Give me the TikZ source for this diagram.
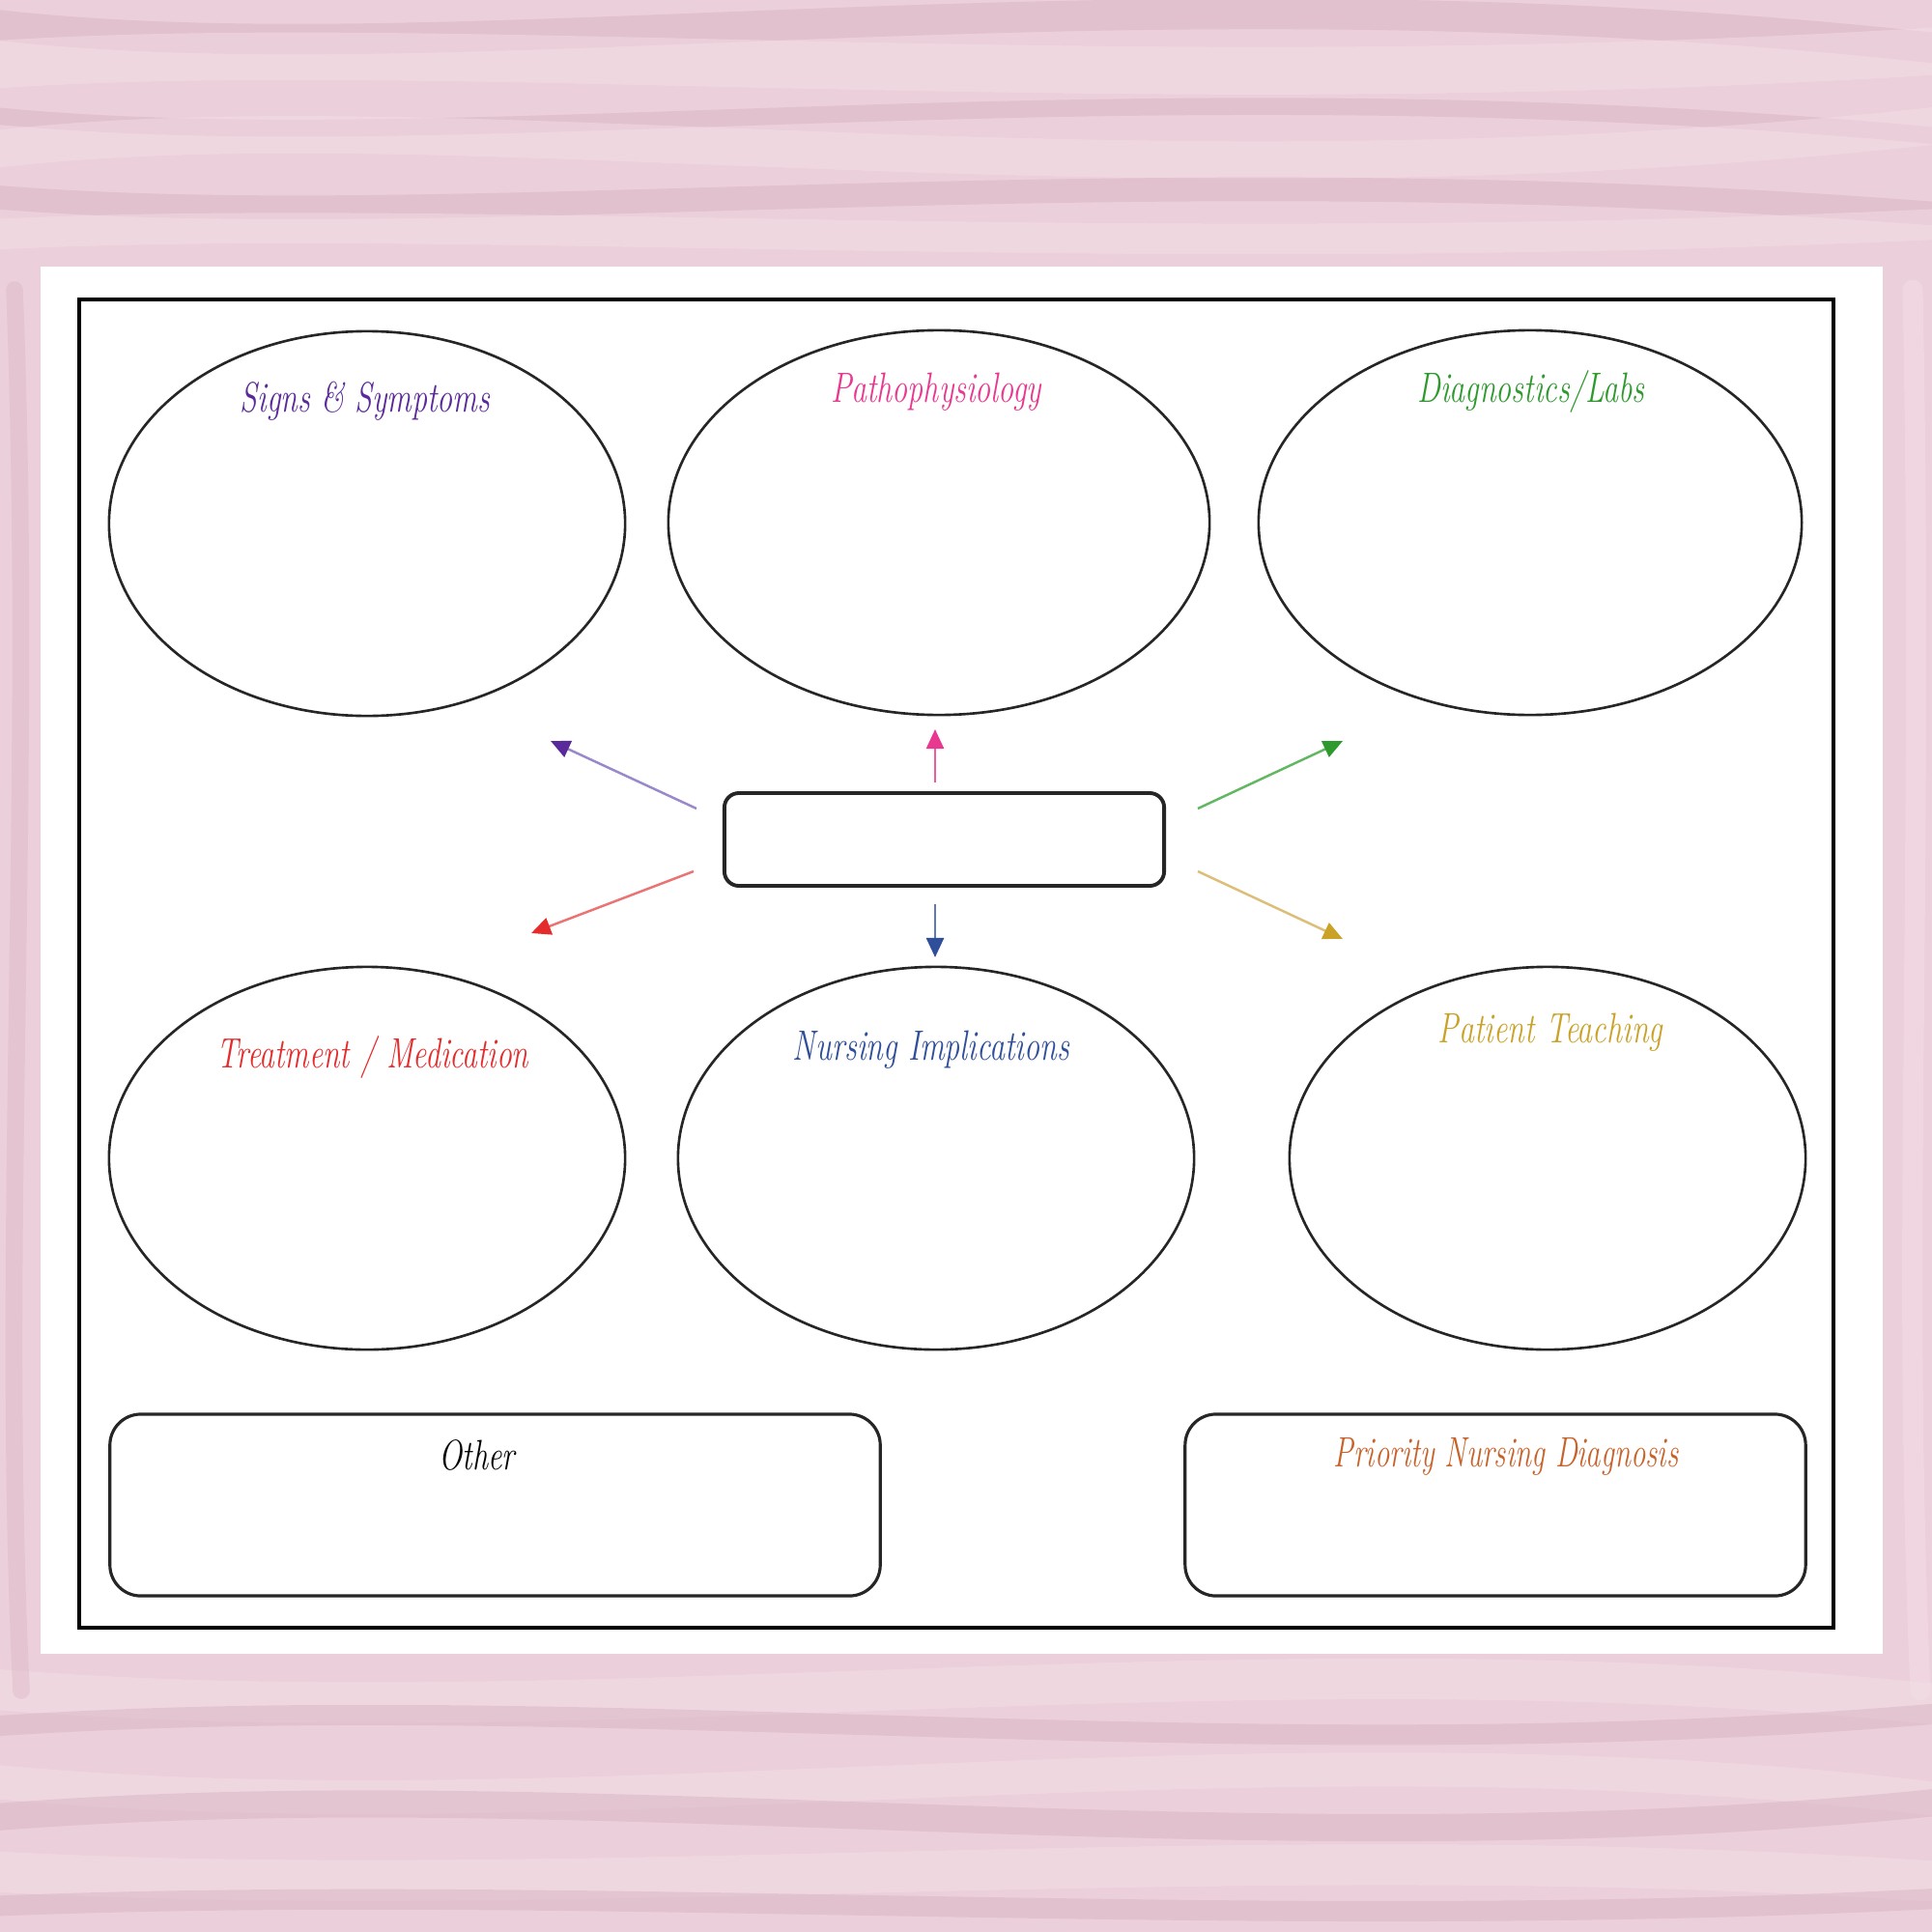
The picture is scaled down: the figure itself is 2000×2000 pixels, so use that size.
\documentclass[tikz,border=0pt]{standalone}
\usetikzlibrary{shapes.geometric,arrows.meta}
\definecolor{bgpink}{HTML}{EBCFDA}
\definecolor{veindark}{HTML}{D6B0C0}
\definecolor{veinlight}{HTML}{F5E1E9}
\definecolor{cpurple}{HTML}{5A2A9A}
\definecolor{lpurple}{HTML}{9A88CC}
\definecolor{cpink}{HTML}{E8388F}
\definecolor{lpink}{HTML}{EC5C9F}
\definecolor{cgreen}{HTML}{2E9A2E}
\definecolor{lgreen}{HTML}{62B862}
\definecolor{cred}{HTML}{E52B2B}
\definecolor{lred}{HTML}{EA7474}
\definecolor{cblue}{HTML}{2F4F9A}
\definecolor{lblue}{HTML}{5F7AB8}
\definecolor{cgold}{HTML}{C9A227}
\definecolor{lgold}{HTML}{DCBE78}
\definecolor{corange}{HTML}{C8622A}
\begin{document}
\begin{tikzpicture}[x=0.01cm,y=-0.01cm,
  bubble/.style={ellipse,draw=black!85,line width=0.75pt,inner sep=0pt},
  title/.style={font=\fontsize{12.5}{14}\selectfont\itshape},
  panel/.style={draw=black!85,line width=0.9pt,rounded corners=0.32cm},
  spoke/.style={line width=0.7pt},
]
\useasboundingbox (0,0) rectangle (2000,2000);
% marble background
\fill[bgpink] (0,0) rectangle (2000,2000);
\begin{scope}[line cap=round]
\foreach \yy/\c/\w/\a in {20/veindark/9/70,70/veinlight/14/-40,115/veindark/5/60,160/veinlight/11/-70,200/veindark/7/50,245/veinlight/9/-30}{
  \draw[\c,line width=\w pt,opacity=0.45] (-50,\yy) .. controls (450,\yy+\a) and (1150,\yy-\a) .. (2050,\yy+0.5*\a);
}
\foreach \yy/\c/\w/\a in {1745/veinlight/12/60,1790/veindark/6/-50,1840/veinlight/10/70,1885/veindark/8/-60,1935/veinlight/12/40,1975/veindark/6/-30}{
  \draw[\c,line width=\w pt,opacity=0.45] (-50,\yy) .. controls (600,\yy+\a) and (1300,\yy-\a) .. (2050,\yy+0.4*\a);
}
\draw[veindark,line width=5pt,opacity=0.35] (15,300) .. controls (35,800) and (0,1300) .. (22,1750);
\draw[veinlight,line width=6pt,opacity=0.4] (1980,300) .. controls (1992,900) and (1968,1300) .. (1988,1750);
\end{scope}
% paper
\fill[white] (42,276) rectangle (1949,1712);
\draw[black,line width=1.2pt] (82,310) rectangle (1898,1685);
% bubbles
\node[bubble,minimum width=5.34cm,minimum height=3.98cm] (signs) at (380,542) {};
\node[bubble,minimum width=5.60cm,minimum height=3.98cm] (patho) at (972,541) {};
\node[bubble,minimum width=5.62cm,minimum height=3.98cm] (diag) at (1584,541) {};
\node[bubble,minimum width=5.34cm,minimum height=3.96cm] (treat) at (380,1199) {};
\node[bubble,minimum width=5.34cm,minimum height=3.96cm] (nurs) at (969,1199) {};
\node[bubble,minimum width=5.34cm,minimum height=3.96cm] (teach) at (1602,1199) {};
% titles
\node[title,text=cpurple] (tsigns) at (378,415) {\scalebox{0.73}[1]{Signs \& Symptoms}};
\node[title,text=cpink] (tpatho) at (969,406) {\scalebox{0.73}[1]{Pathophysiology}};
\node[title,text=cgreen] (tdiag) at (1585,406) {\scalebox{0.73}[1]{Diagnostics/Labs}};
\node[title,text=cred] (ttreat) at (386,1094) {\scalebox{0.72}[1]{Treatment / Medication}};
\node[title,text=cblue] (tnurs) at (964,1087) {\scalebox{0.73}[1]{Nursing Implications}};
\node[title,text=cgold] (tteach) at (1605,1069) {\scalebox{0.73}[1]{Patient Teaching}};
% center box
\node[draw=black!85,line width=1.1pt,rounded corners=0.15cm,minimum width=4.55cm,minimum height=0.96cm,inner sep=0pt] (center) at (977.5,869) {};
% bottom panels
\node[panel,minimum width=7.97cm,minimum height=1.88cm,inner sep=0pt] (other) at (512.5,1558) {};
\node[panel,minimum width=6.42cm,minimum height=1.88cm,inner sep=0pt] (prio) at (1548,1558) {};
\node[title,text=black] (tother) at (494,1506) {\scalebox{0.73}[1]{Other}};
\node[title,text=corange] (tprio) at (1559,1508) {\scalebox{0.7}[1]{Priority Nursing Diagnosis}};
% arrow end coordinates
\coordinate (s1) at (721,837); \coordinate (e1) at (570,767);
\coordinate (s2) at (968,810); \coordinate (e2) at (968,755);
\coordinate (s3) at (1240,837); \coordinate (e3) at (1390,767);
\coordinate (s4) at (718,902); \coordinate (e4) at (550,966);
\coordinate (s5) at (968,936); \coordinate (e5) at (968,991);
\coordinate (s6) at (1240,902); \coordinate (e6) at (1390,972);
\draw[spoke,lpurple,-{Triangle[length=0.2cm,width=0.18cm,color=cpurple]}] (s1) -- (e1);
\draw[spoke,lpink,-{Triangle[length=0.2cm,width=0.18cm,color=cpink]}] (s2) -- (e2);
\draw[spoke,lgreen,-{Triangle[length=0.2cm,width=0.18cm,color=cgreen]}] (s3) -- (e3);
\draw[spoke,lred,-{Triangle[length=0.2cm,width=0.18cm,color=cred]}] (s4) -- (e4);
\draw[spoke,lblue,-{Triangle[length=0.2cm,width=0.18cm,color=cblue]}] (s5) -- (e5);
\draw[spoke,lgold,-{Triangle[length=0.2cm,width=0.18cm,color=cgold]}] (s6) -- (e6);
\end{tikzpicture}
\end{document}
